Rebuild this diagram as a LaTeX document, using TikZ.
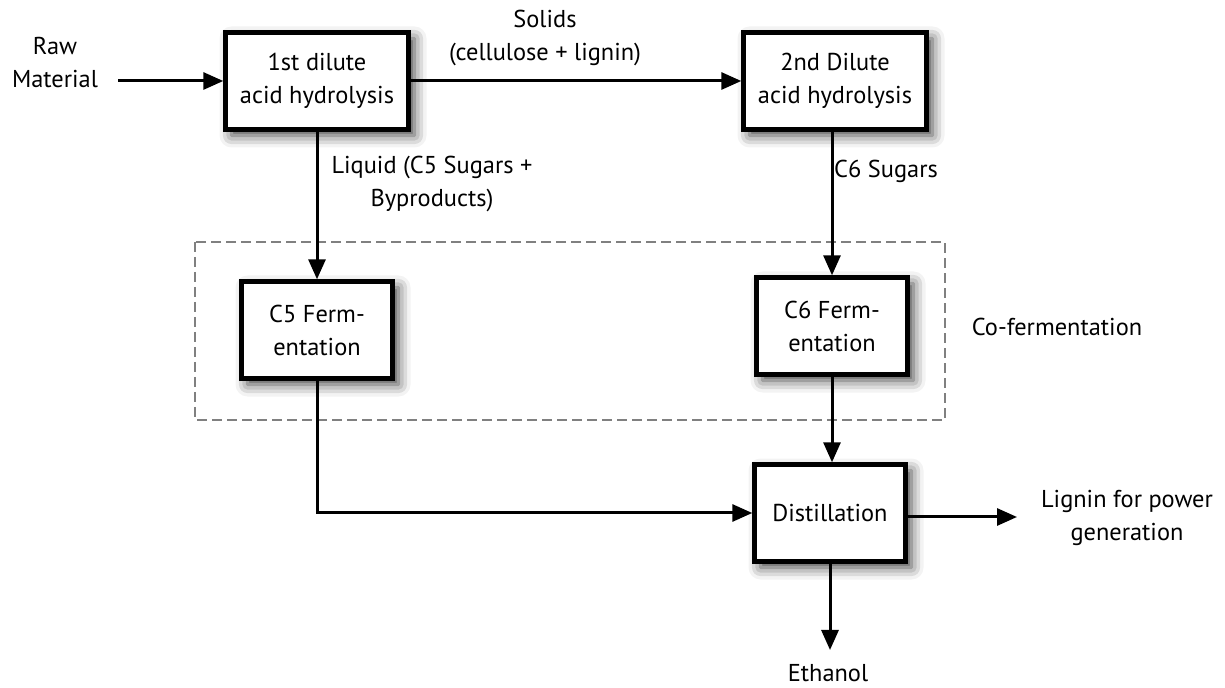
\documentclass[tikz,border=0pt]{standalone}
\usepackage{fontspec}
\setmainfont{PT Sans}
\usetikzlibrary{arrows.meta,shadows.blur}

\tikzset{
  procbox/.style={draw, line width=2.2pt, fill=white, align=center, inner sep=2pt,
    blur shadow={shadow xshift=3pt, shadow yshift=-3pt, shadow blur radius=6pt, shadow opacity=75}},
  widebox/.style={procbox, minimum width=91.5pt, minimum height=48.5pt},
  smallbox/.style={procbox, minimum width=75.5pt, minimum height=48.5pt},
  flow/.style={line width=1.5pt, -{Triangle[length=10pt,width=8.5pt]}},
  lbl/.style={align=center, inner sep=0pt}
}

\begin{document}
\begin{tikzpicture}[x=0.5pt,y=0.5pt,yscale=-1,font=\fontsize{12.2}{16.5}\selectfont]
\useasboundingbox (0,0) rectangle (1225,688);

% Co-fermentation frame
\draw [gray, line width=1pt, dash pattern=on 5pt off 2.5pt] (195,242) rectangle (945,420);

% Boxes
\node [widebox] (hyd1) at (317,81) {1st dilute\\acid hydrolysis};
\node [widebox] (hyd2) at (835,81) {2nd Dilute\\acid hydrolysis};
\node [smallbox] (ferm5) at (317,330) {C5 Ferm-\\entation};
\node [smallbox] (ferm6) at (832,326) {C6 Ferm-\\entation};
\node [smallbox] (dist) at (830,513) {Distillation};

% Text Node
\node [lbl] (raw) at (55,63) {Raw\\Material};
\node [lbl] (solids) at (545,38) {Solids\\(cellulose + lignin)};
\node [lbl] (liquid) at (432,184) {Liquid (C5 Sugars +\\Byproducts)};
\node [lbl] (sugar6) at (886,171) {C6 Sugars};
\node [lbl] (cofer) at (1057,327) {Co-fermentation};
\node [lbl] (lignin) at (1127,518) {Lignin for power\\generation};
\node [lbl] (ethanol) at (828,673) {Ethanol};

\coordinate (rawend) at (118,81);
\coordinate (ligend) at (1017,517);
\coordinate (ethend) at (830,650);

% Connectors
\draw [flow] (rawend) -- (hyd1);
\draw [flow] (hyd1) -- (hyd2);
\draw [flow] (hyd1) -- (ferm5);
\draw [flow] (ferm6.north |- hyd2.south) -- (ferm6);
\draw [flow] (ferm6.south) -- (ferm6.south |- dist.north);
\draw [flow] (ferm5) |- (dist.west);
\draw [flow] (dist.east |- ligend) -- (ligend);
\draw [flow] (dist) -- (ethend);

\end{tikzpicture}
\end{document}
